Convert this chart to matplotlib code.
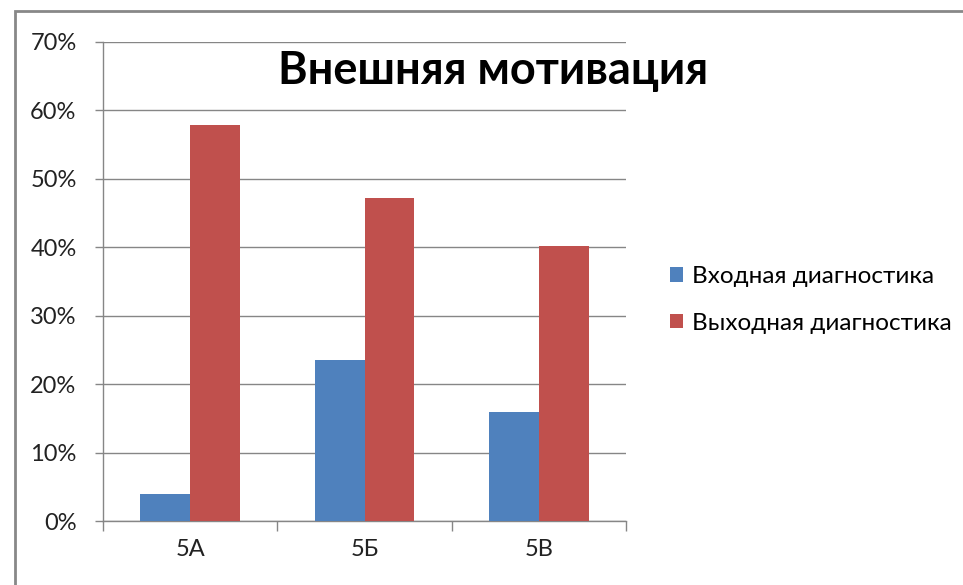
import numpy as np
import matplotlib.pyplot as plt
import matplotlib.patches as patches

plt.rcParams['font.family'] = ['Lato', 'DejaVu Sans']

# данные
categories = ['5А', '5Б', '5В']
vhod = [0.04, 0.235, 0.16]
vyhod = [0.578, 0.472, 0.402]
series_names = ['Входная диагностика', 'Выходная диагностика']
yticks = [0, 0.1, 0.2, 0.3, 0.4, 0.5, 0.6, 0.7]
ytick_labels = ['0%', '10%', '20%', '30%', '40%', '50%', '60%', '70%']

blue = '#4F81BD'
red = '#C0504D'
grey = '#868686'

fig = plt.figure(figsize=(9.63, 5.85), dpi=100)
ax = fig.add_axes([103 / 963, 1 - 521 / 585, (626 - 103) / 963, (521 - 42) / 585])

x = np.arange(len(categories))
w = 1 / 3.5
b1 = ax.bar(x - w / 2, vhod, w, color=blue, label=series_names[0], zorder=3)
b2 = ax.bar(x + w / 2, vyhod, w, color=red, label=series_names[1], zorder=3)

ax.set_xlim(-0.5, 2.5)
ax.set_ylim(0, 0.7)
ax.set_yticks(yticks)
ax.set_yticklabels(ytick_labels, fontsize=17, color='#222222')
ax.yaxis.grid(True, color=grey, linewidth=1, zorder=0)

# подписи категорий по центрам, риски на границах
ax.set_xticks([-0.5, 0.5, 1.5, 2.5])
ax.set_xticklabels([])
ax.set_xticks(x, minor=True)
ax.set_xticklabels(categories, minor=True, fontsize=17, color='#222222')
ax.tick_params(axis='x', which='minor', length=0, pad=13)
ax.tick_params(axis='x', which='major', length=7, color=grey, width=1)
ax.tick_params(axis='y', length=6, color=grey, width=1, pad=13)

for s in ['top', 'right']:
    ax.spines[s].set_visible(False)
for s in ['left', 'bottom']:
    ax.spines[s].set_color(grey)
    ax.spines[s].set_linewidth(1)

ax.set_title('Внешняя мотивация', fontsize=32.5, fontweight='bold', x=0.745, y=0.895)

fig.legend(handles=[b1, b2], loc='center left', bbox_to_anchor=(648 / 963, 1 - 300 / 585),
           frameon=False, fontsize=17.5, handlelength=0.55, handleheight=0.55,
           handletextpad=0.35, labelspacing=1.05)

# рамка
fig.patches.append(patches.Rectangle((15 / 963, -0.1), 2, (585 - 11) / 585 + 0.1,
                                     transform=fig.transFigure, fill=False,
                                     edgecolor='#888888', linewidth=2))

plt.savefig('out.png', dpi=100)
